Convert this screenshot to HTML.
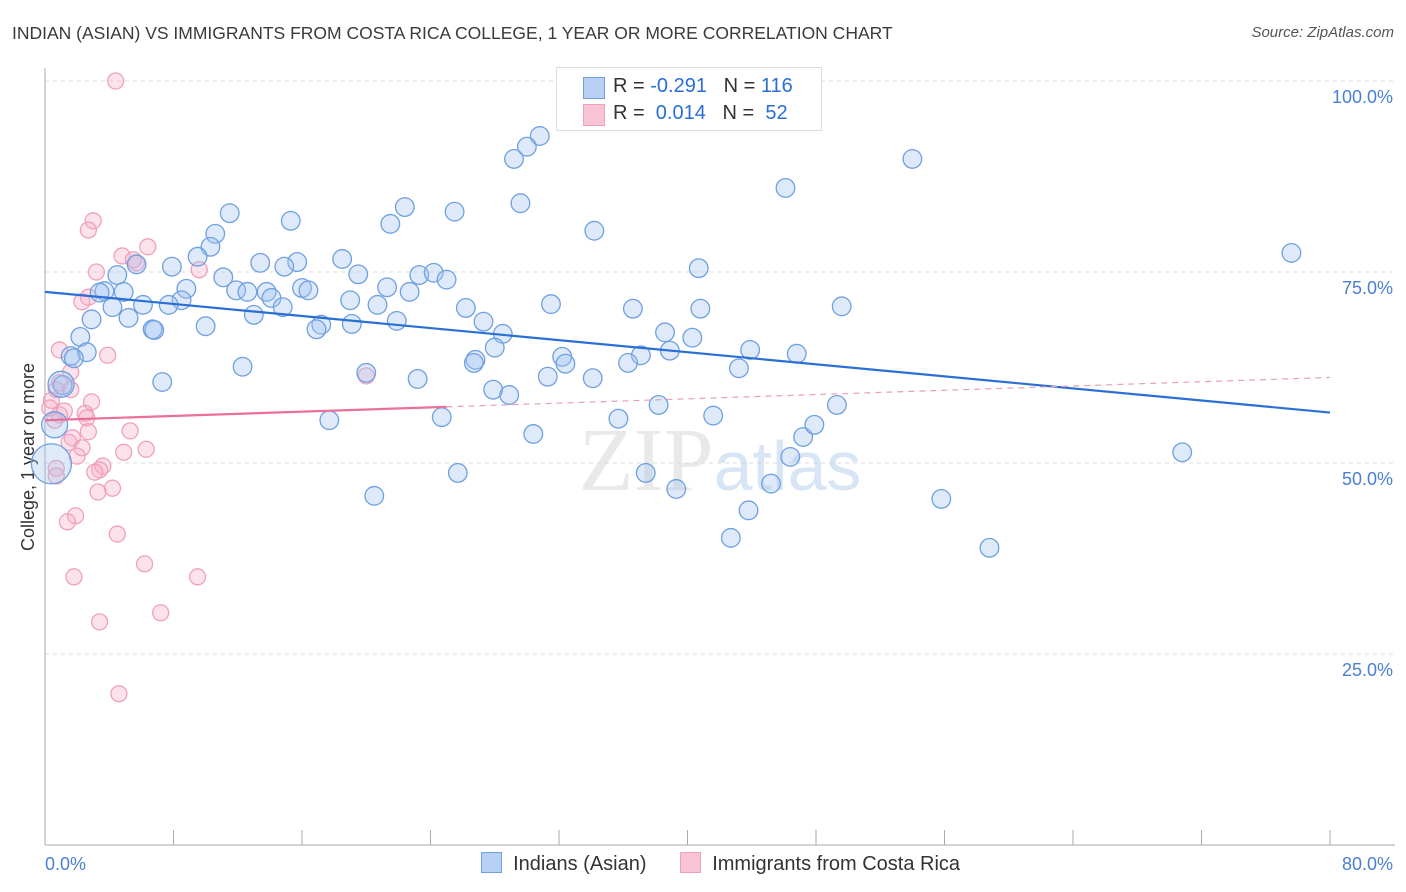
<!DOCTYPE html>
<html><head><meta charset="utf-8"><style>
body{margin:0;background:#fff;font-family:"Liberation Sans",sans-serif}
#c{position:relative;width:1406px;height:892px;overflow:hidden}
.t{position:absolute;white-space:nowrap}
</style></head><body><div id="c">
<div class="t" style="left:12px;top:23px;font-size:17.5px;color:#3a3a3a">INDIAN (ASIAN) VS IMMIGRANTS FROM COSTA RICA COLLEGE, 1 YEAR OR MORE CORRELATION CHART</div>
<div class="t" style="right:12px;top:24px;font-size:15px;color:#555;font-style:italic">Source: ZipAtlas.com</div>
<svg id="s" width="1406" height="892" style="position:absolute;left:0;top:0"></svg>
</div>
<script>
const bx=[30.8,30.0,29.2,54.0,46.1,29.6,22.4,11.5,25.5,15.3,21.5,34.2,10.6,10.3,77.6,9.5,18.5,13.4,7.9,15.7,14.9,5.7,40.7,19.5,11.1,23.3,24.2,25.0,4.5,4.9,3.7,3.4,8.8,11.9,12.6,13.8,16.0,16.4,21.3,22.7,14.1,8.5,19.0,6.1,7.7,4.2,20.7,31.5,14.8,26.2,36.6,40.8,49.6,13.0,5.2,2.9,21.9,27.3,17.2,10.0,19.1,6.7,16.9,6.8,28.5,38.6,2.2,40.3,28.0,2.6,1.6,1.8,37.1,38.9,43.9,46.8,32.2,26.8,32.4,26.7,36.3,12.3,43.2,20.0,31.3,34.1,23.2,7.3,1.1,27.9,28.9,38.2,49.3,41.6,35.7,17.7,24.7,30.4,47.2,47.9,46.4,70.8,37.4,25.7,45.2,39.3,20.5,55.8,43.8,42.7,58.8,0.4,0.6,1.0];
const by=[92.8,91.4,89.8,89.8,86.0,84.0,83.5,82.7,82.9,81.7,81.3,80.4,80.0,78.3,77.5,77.0,76.7,76.2,75.7,76.3,75.7,76.0,75.5,74.7,74.3,74.6,74.9,74.0,74.6,72.4,72.5,72.3,72.8,72.6,72.4,72.4,72.9,72.6,73.0,72.4,71.6,71.3,71.3,70.7,70.7,70.4,70.7,70.8,70.4,70.3,70.2,70.2,70.5,69.4,69.0,68.8,68.6,68.5,68.1,67.9,68.2,67.5,67.5,67.4,66.9,67.1,66.5,66.4,65.1,64.5,64.0,63.7,64.1,64.7,64.8,64.3,63.9,63.5,63.0,63.1,63.1,62.6,62.4,61.8,61.3,61.1,61.0,60.6,60.2,59.6,58.9,57.6,57.6,56.2,55.8,55.6,56.0,53.8,53.4,55.0,50.8,51.4,48.7,48.7,47.3,46.6,45.7,45.3,43.8,40.2,38.9,49.9,55.0,60.3];
const bigBlue=[111,112,113];
const px=[4.4,3.0,2.7,6.4,4.8,5.7,9.6,3.2,2.7,2.3,3.9,0.9,1.6,0.9,1.6,0.7,0.4,2.9,0.3,1.2,2.5,0.9,0.6,2.6,2.7,5.3,1.7,1.5,2.3,6.3,4.9,2.0,3.6,3.4,3.1,0.7,0.7,4.2,3.3,1.9,1.4,4.5,6.2,9.5,1.8,7.2,3.4,4.6,20.0,5.5];
const py=[100,81.7,80.5,78.3,77.1,76.2,75.3,75.0,71.7,71.1,64.1,64.8,61.9,60.5,59.6,59.6,58.2,58.0,57.2,56.8,56.5,56.3,55.6,55.9,54.1,54.2,53.3,52.7,52.0,51.8,51.4,50.9,49.6,49.1,48.8,49.3,48.3,46.7,46.2,43.1,42.3,40.7,36.8,35.1,35.1,30.4,29.2,19.8,61.4,76.6];
const blueTrend=[72.4,56.6];
const pinkTrend=[55.6,61.2];
const xTicks=["0.0%","80.0%"];
const yTicks=[25,50,75,100];
const X=v=>45+v*1285/80, Y=v=>845-v*7.64;
const s=document.getElementById('s');const NS='http://www.w3.org/2000/svg';
function E(t,a,p){const e=document.createElementNS(NS,t);for(const k in a)e.setAttribute(k,a[k]);(p||s).appendChild(e);return e;}
yTicks.forEach(v=>{const l=E('line',{x1:45,x2:1395,y1:Y(v),y2:Y(v),stroke:'#ddd','stroke-dasharray':'4,4'});


const t=E('text',{x:1393,y:Y(v)+22,'text-anchor':'end','font-size':18,fill:'#4a7fd4','font-family':'Liberation Sans'});t.textContent=v.toFixed(1)+'%';

});
E('line',{x1:45,x2:45,y1:68,y2:845,stroke:'#aaa'});
E('line',{x1:45,x2:1395,y1:845,y2:845,stroke:'#aaa'});
for(let i=1;i<=10;i++){const l=E('line',{x1:X(i*8),x2:X(i*8),y1:830,y2:845,stroke:'#aaa'});
}
[[xTicks[0],45,'start'],[xTicks[1],1393,'end']].forEach(a=>{const t=E('text',{x:a[1],y:870,'text-anchor':a[2],'font-size':18,fill:'#4a7fd4','font-family':'Liberation Sans'});t.textContent=a[0];

});
const yt=E('text',{x:34,y:457,transform:'rotate(-90 34 457)','text-anchor':'middle','font-size':18,fill:'#333','font-family':'Liberation Sans'});yt.textContent='College, 1 year or more';


const w=E('text',{x:720,y:490,'text-anchor':'middle','font-size':90,fill:'#d8d8d8','opacity':0.55,'font-family':'Liberation Serif'});


w.innerHTML='ZIP<tspan font-family="Liberation Sans" fill="#b8d0ee" font-size="70">atlas</tspan>';
px.forEach((v,i)=>{const c=E('circle',{cx:X(v),cy:Y(py[i]),r:8,fill:'rgba(245,175,198,0.35)',stroke:'#f0a0bc','stroke-width':1.3});

});
bx.forEach((v,i)=>{const k=bigBlue.indexOf(i);const c=E('circle',{cx:X(v),cy:Y(by[i]),r:k==0?20:k>0?13:9.3,fill:'rgba(160,195,240,0.35)',stroke:'#6fa0e0','stroke-width':1.3});

});
const bl=E('line',{x1:X(0),y1:Y(blueTrend[0]),x2:X(80),y2:Y(blueTrend[1]),stroke:'#2a6fd6','stroke-width':2.2});


const f=v=>pinkTrend[0]+(pinkTrend[1]-pinkTrend[0])*v/80;
const pl=E('line',{x1:X(0),y1:Y(f(0)),x2:X(25),y2:Y(f(25)),stroke:'#e8709a','stroke-width':2.2});


const pd=E('line',{x1:X(25),y1:Y(f(25)),x2:X(80),y2:Y(f(80)),stroke:'#e8a0b8','stroke-width':1.2,'stroke-dasharray':'6,5'});


</script>
<div class="t" style="left:556px;top:67px;width:264px;height:62px;border:1px solid #ddd;background:#fff;font-size:20px">
<div style="position:absolute;left:26px;top:9px;width:20px;height:20px;background:#b8d0f4;border:1px solid #6fa0e0"></div>
<div style="position:absolute;left:56px;top:7px;color:#333">R = <span style="color:#2a6fd6">-0.291</span> &nbsp; N = <span style="color:#2a6fd6">116</span></div>
<div style="position:absolute;left:26px;top:36px;width:20px;height:20px;background:#f8c4d4;border:1px solid #f0a0bc"></div>
<div style="position:absolute;left:56px;top:34px;color:#333">R = &nbsp;<span style="color:#2a6fd6">0.014</span> &nbsp; N = &nbsp;<span style="color:#2a6fd6">52</span></div>
</div>
<div class="t" style="left:481px;top:852px;font-size:20px;color:#333">
<span style="display:inline-block;width:19px;height:19px;background:#b8d0f4;border:1px solid #6fa0e0;vertical-align:-3px"></span>&nbsp; Indians (Asian)
<span style="display:inline-block;width:19px;height:19px;background:#f8c4d4;border:1px solid #f0a0bc;vertical-align:-3px;margin-left:28px"></span>&nbsp; Immigrants from Costa Rica</div>
</body></html>
